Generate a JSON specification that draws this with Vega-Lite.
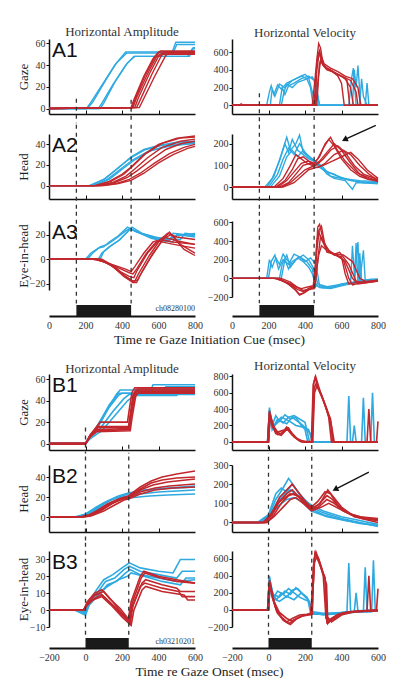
{
"$schema":"https://vega.github.io/schema/vega-lite/v6.json",
"background":"white",
"padding":{"left":17,"top":26,"right":0,"bottom":0},
"config":{"font":"Liberation Serif","view":{"stroke":null},
"axis":{"grid":false,"labelOverlap":false,"labelFlush":false,"labelFont":"Liberation Serif","labelFontSize":10,"labelColor":"#333","domainColor":"#111","domainWidth":1.5,"tickColor":"#111","tickSize":3,"labelPadding":1,"titleFont":"Liberation Serif","titleFontSize":13,"titleFontWeight":"normal","titleColor":"#222"},
"axisLeft":{"titleX":-22,"titleAngle":270,"titleBaseline":"alphabetic","titleAlign":"center"},
"title":{"font":"Liberation Serif","fontSize":13,"fontWeight":"normal","color":"#333","offset":-2},
"line":{"strokeWidth":1.4},
"rule":{"strokeDash":[4,4],"strokeWidth":1.3,"color":"#333"}},
"datasets":{
"a1g":[
{"s":"b1","c":"b","t":0,"v":0},{"s":"b1","c":"b","t":205,"v":0},{"s":"b1","c":"b","t":230,"v":6},{"s":"b1","c":"b","t":300,"v":24},{"s":"b1","c":"b","t":360,"v":40},{"s":"b1","c":"b","t":420,"v":52},{"s":"b1","c":"b","t":675,"v":52},{"s":"b1","c":"b","t":695,"v":61},{"s":"b1","c":"b","t":800,"v":61},
{"s":"b2","c":"b","t":0,"v":0},{"s":"b2","c":"b","t":210,"v":0},{"s":"b2","c":"b","t":240,"v":6},{"s":"b2","c":"b","t":310,"v":26},{"s":"b2","c":"b","t":370,"v":42},{"s":"b2","c":"b","t":425,"v":51},{"s":"b2","c":"b","t":680,"v":51},{"s":"b2","c":"b","t":700,"v":59},{"s":"b2","c":"b","t":800,"v":59},
{"s":"b3","c":"b","t":0,"v":0},{"s":"b3","c":"b","t":270,"v":0},{"s":"b3","c":"b","t":290,"v":5},{"s":"b3","c":"b","t":350,"v":22},{"s":"b3","c":"b","t":420,"v":40},{"s":"b3","c":"b","t":465,"v":48},{"s":"b3","c":"b","t":770,"v":48},{"s":"b3","c":"b","t":790,"v":56},{"s":"b3","c":"b","t":800,"v":56},
{"s":"b4","c":"b","t":0,"v":0},{"s":"b4","c":"b","t":280,"v":0},{"s":"b4","c":"b","t":300,"v":5},{"s":"b4","c":"b","t":360,"v":24},{"s":"b4","c":"b","t":430,"v":42},{"s":"b4","c":"b","t":470,"v":48},{"s":"b4","c":"b","t":760,"v":48},{"s":"b4","c":"b","t":785,"v":55},{"s":"b4","c":"b","t":800,"v":55},
{"s":"r1","c":"r","t":0,"v":0},{"s":"r1","c":"r","t":450,"v":1},{"s":"r1","c":"r","t":465,"v":8},{"s":"r1","c":"r","t":520,"v":30},{"s":"r1","c":"r","t":570,"v":46},{"s":"r1","c":"r","t":600,"v":52},{"s":"r1","c":"r","t":800,"v":52},
{"s":"r2","c":"r","t":0,"v":0},{"s":"r2","c":"r","t":455,"v":1},{"s":"r2","c":"r","t":470,"v":8},{"s":"r2","c":"r","t":525,"v":30},{"s":"r2","c":"r","t":580,"v":47},{"s":"r2","c":"r","t":610,"v":53},{"s":"r2","c":"r","t":800,"v":53},
{"s":"r3","c":"r","t":0,"v":0},{"s":"r3","c":"r","t":460,"v":1},{"s":"r3","c":"r","t":480,"v":10},{"s":"r3","c":"r","t":540,"v":32},{"s":"r3","c":"r","t":590,"v":48},{"s":"r3","c":"r","t":620,"v":51},{"s":"r3","c":"r","t":800,"v":51},
{"s":"r4","c":"r","t":0,"v":0},{"s":"r4","c":"r","t":470,"v":1},{"s":"r4","c":"r","t":490,"v":10},{"s":"r4","c":"r","t":550,"v":32},{"s":"r4","c":"r","t":600,"v":48},{"s":"r4","c":"r","t":630,"v":50},{"s":"r4","c":"r","t":800,"v":50},
{"s":"r5","c":"r","t":0,"v":0},{"s":"r5","c":"r","t":480,"v":1},{"s":"r5","c":"r","t":500,"v":8},{"s":"r5","c":"r","t":565,"v":32},{"s":"r5","c":"r","t":620,"v":50},{"s":"r5","c":"r","t":640,"v":52},{"s":"r5","c":"r","t":800,"v":52},
{"s":"r6","c":"r","t":0,"v":0},{"s":"r6","c":"r","t":495,"v":1},{"s":"r6","c":"r","t":510,"v":6},{"s":"r6","c":"r","t":580,"v":30},{"s":"r6","c":"r","t":640,"v":49},{"s":"r6","c":"r","t":660,"v":51},{"s":"r6","c":"r","t":800,"v":51}],
"a1v":[
{"s":"b1","c":"b","t":0,"v":0},{"s":"b1","c":"b","t":190,"v":0},{"s":"b1","c":"b","t":205,"v":150},{"s":"b1","c":"b","t":215,"v":220},{"s":"b1","c":"b","t":230,"v":120},{"s":"b1","c":"b","t":250,"v":230},{"s":"b1","c":"b","t":270,"v":180},{"s":"b1","c":"b","t":300,"v":250},{"s":"b1","c":"b","t":340,"v":290},{"s":"b1","c":"b","t":380,"v":330},{"s":"b1","c":"b","t":410,"v":300},{"s":"b1","c":"b","t":430,"v":200},{"s":"b1","c":"b","t":445,"v":0},{"s":"b1","c":"b","t":640,"v":0},{"s":"b1","c":"b","t":655,"v":300},{"s":"b1","c":"b","t":665,"v":420},{"s":"b1","c":"b","t":680,"v":0},{"s":"b1","c":"b","t":800,"v":0},
{"s":"b2","c":"b","t":0,"v":0},{"s":"b2","c":"b","t":210,"v":0},{"s":"b2","c":"b","t":220,"v":180},{"s":"b2","c":"b","t":235,"v":100},{"s":"b2","c":"b","t":260,"v":240},{"s":"b2","c":"b","t":290,"v":200},{"s":"b2","c":"b","t":330,"v":280},{"s":"b2","c":"b","t":370,"v":320},{"s":"b2","c":"b","t":400,"v":350},{"s":"b2","c":"b","t":420,"v":310},{"s":"b2","c":"b","t":440,"v":150},{"s":"b2","c":"b","t":460,"v":0},{"s":"b2","c":"b","t":660,"v":0},{"s":"b2","c":"b","t":670,"v":400},{"s":"b2","c":"b","t":680,"v":200},{"s":"b2","c":"b","t":690,"v":450},{"s":"b2","c":"b","t":705,"v":0},{"s":"b2","c":"b","t":800,"v":0},
{"s":"b3","c":"b","t":0,"v":0},{"s":"b3","c":"b","t":260,"v":0},{"s":"b3","c":"b","t":275,"v":200},{"s":"b3","c":"b","t":290,"v":120},{"s":"b3","c":"b","t":310,"v":220},{"s":"b3","c":"b","t":340,"v":250},{"s":"b3","c":"b","t":380,"v":300},{"s":"b3","c":"b","t":420,"v":330},{"s":"b3","c":"b","t":450,"v":280},{"s":"b3","c":"b","t":470,"v":100},{"s":"b3","c":"b","t":480,"v":0},{"s":"b3","c":"b","t":700,"v":0},{"s":"b3","c":"b","t":710,"v":300},{"s":"b3","c":"b","t":720,"v":100},{"s":"b3","c":"b","t":740,"v":0},{"s":"b3","c":"b","t":800,"v":0},
{"s":"b4","c":"b","t":0,"v":0},{"s":"b4","c":"b","t":270,"v":0},{"s":"b4","c":"b","t":285,"v":150},{"s":"b4","c":"b","t":300,"v":240},{"s":"b4","c":"b","t":330,"v":200},{"s":"b4","c":"b","t":360,"v":260},{"s":"b4","c":"b","t":400,"v":290},{"s":"b4","c":"b","t":440,"v":320},{"s":"b4","c":"b","t":460,"v":250},{"s":"b4","c":"b","t":478,"v":0},{"s":"b4","c":"b","t":730,"v":0},{"s":"b4","c":"b","t":740,"v":250},{"s":"b4","c":"b","t":750,"v":0},{"s":"b4","c":"b","t":800,"v":0},
{"s":"r1","c":"r","t":0,"v":0},{"s":"r1","c":"r","t":40,"v":0},{"s":"r1","c":"r","t":50,"v":15},{"s":"r1","c":"r","t":60,"v":0},{"s":"r1","c":"r","t":440,"v":0},{"s":"r1","c":"r","t":455,"v":300},{"s":"r1","c":"r","t":465,"v":520},{"s":"r1","c":"r","t":475,"v":700},{"s":"r1","c":"r","t":485,"v":650},{"s":"r1","c":"r","t":500,"v":450},{"s":"r1","c":"r","t":520,"v":400},{"s":"r1","c":"r","t":550,"v":380},{"s":"r1","c":"r","t":580,"v":330},{"s":"r1","c":"r","t":600,"v":250},{"s":"r1","c":"r","t":615,"v":0},{"s":"r1","c":"r","t":800,"v":0},
{"s":"r2","c":"r","t":0,"v":0},{"s":"r2","c":"r","t":450,"v":0},{"s":"r2","c":"r","t":460,"v":350},{"s":"r2","c":"r","t":470,"v":560},{"s":"r2","c":"r","t":480,"v":620},{"s":"r2","c":"r","t":495,"v":480},{"s":"r2","c":"r","t":520,"v":420},{"s":"r2","c":"r","t":560,"v":370},{"s":"r2","c":"r","t":600,"v":330},{"s":"r2","c":"r","t":630,"v":280},{"s":"r2","c":"r","t":645,"v":0},{"s":"r2","c":"r","t":800,"v":0},
{"s":"r3","c":"r","t":0,"v":0},{"s":"r3","c":"r","t":455,"v":0},{"s":"r3","c":"r","t":465,"v":400},{"s":"r3","c":"r","t":478,"v":600},{"s":"r3","c":"r","t":490,"v":500},{"s":"r3","c":"r","t":510,"v":430},{"s":"r3","c":"r","t":540,"v":400},{"s":"r3","c":"r","t":580,"v":350},{"s":"r3","c":"r","t":620,"v":300},{"s":"r3","c":"r","t":650,"v":200},{"s":"r3","c":"r","t":665,"v":0},{"s":"r3","c":"r","t":800,"v":0},
{"s":"r4","c":"r","t":0,"v":0},{"s":"r4","c":"r","t":460,"v":0},{"s":"r4","c":"r","t":472,"v":300},{"s":"r4","c":"r","t":485,"v":500},{"s":"r4","c":"r","t":500,"v":450},{"s":"r4","c":"r","t":530,"v":400},{"s":"r4","c":"r","t":570,"v":360},{"s":"r4","c":"r","t":610,"v":320},{"s":"r4","c":"r","t":650,"v":280},{"s":"r4","c":"r","t":680,"v":150},{"s":"r4","c":"r","t":690,"v":0},{"s":"r4","c":"r","t":800,"v":0},
{"s":"r5","c":"r","t":0,"v":0},{"s":"r5","c":"r","t":465,"v":0},{"s":"r5","c":"r","t":478,"v":450},{"s":"r5","c":"r","t":490,"v":550},{"s":"r5","c":"r","t":505,"v":470},{"s":"r5","c":"r","t":540,"v":420},{"s":"r5","c":"r","t":580,"v":380},{"s":"r5","c":"r","t":620,"v":330},{"s":"r5","c":"r","t":660,"v":300},{"s":"r5","c":"r","t":690,"v":200},{"s":"r5","c":"r","t":705,"v":0},{"s":"r5","c":"r","t":800,"v":0}],
"a2g":[
{"s":"b1","c":"b","t":0,"v":0},{"s":"b1","c":"b","t":220,"v":0},{"s":"b1","c":"b","t":300,"v":6},{"s":"b1","c":"b","t":380,"v":17},{"s":"b1","c":"b","t":450,"v":28},{"s":"b1","c":"b","t":520,"v":35},{"s":"b1","c":"b","t":600,"v":39},{"s":"b1","c":"b","t":700,"v":42},{"s":"b1","c":"b","t":800,"v":43},
{"s":"b2","c":"b","t":0,"v":0},{"s":"b2","c":"b","t":230,"v":0},{"s":"b2","c":"b","t":310,"v":7},{"s":"b2","c":"b","t":390,"v":19},{"s":"b2","c":"b","t":450,"v":27},{"s":"b2","c":"b","t":530,"v":35},{"s":"b2","c":"b","t":620,"v":39},{"s":"b2","c":"b","t":800,"v":42},
{"s":"b3","c":"b","t":0,"v":0},{"s":"b3","c":"b","t":240,"v":0},{"s":"b3","c":"b","t":320,"v":6},{"s":"b3","c":"b","t":400,"v":17},{"s":"b3","c":"b","t":460,"v":25},{"s":"b3","c":"b","t":540,"v":33},{"s":"b3","c":"b","t":640,"v":38},{"s":"b3","c":"b","t":800,"v":41},
{"s":"b4","c":"b","t":0,"v":0},{"s":"b4","c":"b","t":250,"v":0},{"s":"b4","c":"b","t":330,"v":6},{"s":"b4","c":"b","t":410,"v":17},{"s":"b4","c":"b","t":470,"v":25},{"s":"b4","c":"b","t":560,"v":34},{"s":"b4","c":"b","t":680,"v":39},{"s":"b4","c":"b","t":800,"v":41},
{"s":"r1","c":"r","t":0,"v":0},{"s":"r1","c":"r","t":250,"v":0},{"s":"r1","c":"r","t":330,"v":4},{"s":"r1","c":"r","t":400,"v":11},{"s":"r1","c":"r","t":450,"v":18},{"s":"r1","c":"r","t":520,"v":30},{"s":"r1","c":"r","t":600,"v":40},{"s":"r1","c":"r","t":700,"v":46},{"s":"r1","c":"r","t":800,"v":48},
{"s":"r2","c":"r","t":0,"v":0},{"s":"r2","c":"r","t":260,"v":0},{"s":"r2","c":"r","t":340,"v":4},{"s":"r2","c":"r","t":410,"v":11},{"s":"r2","c":"r","t":460,"v":19},{"s":"r2","c":"r","t":530,"v":31},{"s":"r2","c":"r","t":620,"v":41},{"s":"r2","c":"r","t":720,"v":46},{"s":"r2","c":"r","t":800,"v":47},
{"s":"r3","c":"r","t":0,"v":0},{"s":"r3","c":"r","t":270,"v":0},{"s":"r3","c":"r","t":350,"v":3},{"s":"r3","c":"r","t":420,"v":9},{"s":"r3","c":"r","t":470,"v":16},{"s":"r3","c":"r","t":540,"v":27},{"s":"r3","c":"r","t":620,"v":37},{"s":"r3","c":"r","t":720,"v":43},{"s":"r3","c":"r","t":800,"v":45},
{"s":"r4","c":"r","t":0,"v":0},{"s":"r4","c":"r","t":280,"v":0},{"s":"r4","c":"r","t":360,"v":3},{"s":"r4","c":"r","t":430,"v":8},{"s":"r4","c":"r","t":480,"v":14},{"s":"r4","c":"r","t":560,"v":25},{"s":"r4","c":"r","t":640,"v":35},{"s":"r4","c":"r","t":730,"v":41},{"s":"r4","c":"r","t":800,"v":43},
{"s":"r5","c":"r","t":0,"v":0},{"s":"r5","c":"r","t":290,"v":0},{"s":"r5","c":"r","t":370,"v":2},{"s":"r5","c":"r","t":440,"v":6},{"s":"r5","c":"r","t":500,"v":12},{"s":"r5","c":"r","t":580,"v":22},{"s":"r5","c":"r","t":660,"v":31},{"s":"r5","c":"r","t":740,"v":37},{"s":"r5","c":"r","t":800,"v":40},
{"s":"r6","c":"r","t":0,"v":0},{"s":"r6","c":"r","t":300,"v":0},{"s":"r6","c":"r","t":380,"v":2},{"s":"r6","c":"r","t":450,"v":5},{"s":"r6","c":"r","t":520,"v":12},{"s":"r6","c":"r","t":600,"v":22},{"s":"r6","c":"r","t":680,"v":30},{"s":"r6","c":"r","t":760,"v":36},{"s":"r6","c":"r","t":800,"v":38}],
"a2v":[
{"s":"b1","c":"b","t":0,"v":0},{"s":"b1","c":"b","t":180,"v":0},{"s":"b1","c":"b","t":220,"v":40},{"s":"b1","c":"b","t":260,"v":120},{"s":"b1","c":"b","t":290,"v":200},{"s":"b1","c":"b","t":310,"v":160},{"s":"b1","c":"b","t":330,"v":220},{"s":"b1","c":"b","t":360,"v":170},{"s":"b1","c":"b","t":390,"v":150},{"s":"b1","c":"b","t":420,"v":130},{"s":"b1","c":"b","t":450,"v":120},{"s":"b1","c":"b","t":480,"v":90},{"s":"b1","c":"b","t":520,"v":70},{"s":"b1","c":"b","t":560,"v":60},{"s":"b1","c":"b","t":600,"v":40},{"s":"b1","c":"b","t":650,"v":30},{"s":"b1","c":"b","t":700,"v":25},{"s":"b1","c":"b","t":800,"v":20},
{"s":"b2","c":"b","t":0,"v":0},{"s":"b2","c":"b","t":190,"v":0},{"s":"b2","c":"b","t":230,"v":50},{"s":"b2","c":"b","t":270,"v":150},{"s":"b2","c":"b","t":300,"v":230},{"s":"b2","c":"b","t":320,"v":170},{"s":"b2","c":"b","t":350,"v":200},{"s":"b2","c":"b","t":370,"v":240},{"s":"b2","c":"b","t":390,"v":160},{"s":"b2","c":"b","t":420,"v":140},{"s":"b2","c":"b","t":460,"v":110},{"s":"b2","c":"b","t":500,"v":80},{"s":"b2","c":"b","t":550,"v":60},{"s":"b2","c":"b","t":600,"v":45},{"s":"b2","c":"b","t":660,"v":30},{"s":"b2","c":"b","t":720,"v":20},{"s":"b2","c":"b","t":800,"v":15},
{"s":"b3","c":"b","t":0,"v":0},{"s":"b3","c":"b","t":200,"v":0},{"s":"b3","c":"b","t":250,"v":60},{"s":"b3","c":"b","t":280,"v":130},{"s":"b3","c":"b","t":310,"v":180},{"s":"b3","c":"b","t":340,"v":150},{"s":"b3","c":"b","t":370,"v":200},{"s":"b3","c":"b","t":400,"v":160},{"s":"b3","c":"b","t":440,"v":130},{"s":"b3","c":"b","t":480,"v":100},{"s":"b3","c":"b","t":520,"v":60},{"s":"b3","c":"b","t":560,"v":40},{"s":"b3","c":"b","t":620,"v":30},{"s":"b3","c":"b","t":660,"v":-10},{"s":"b3","c":"b","t":680,"v":20},{"s":"b3","c":"b","t":800,"v":20},
{"s":"b4","c":"b","t":0,"v":0},{"s":"b4","c":"b","t":210,"v":0},{"s":"b4","c":"b","t":260,"v":50},{"s":"b4","c":"b","t":300,"v":140},{"s":"b4","c":"b","t":330,"v":170},{"s":"b4","c":"b","t":360,"v":140},{"s":"b4","c":"b","t":390,"v":170},{"s":"b4","c":"b","t":420,"v":140},{"s":"b4","c":"b","t":460,"v":120},{"s":"b4","c":"b","t":500,"v":90},{"s":"b4","c":"b","t":540,"v":50},{"s":"b4","c":"b","t":600,"v":40},{"s":"b4","c":"b","t":700,"v":30},{"s":"b4","c":"b","t":800,"v":25},
{"s":"r1","c":"r","t":0,"v":0},{"s":"r1","c":"r","t":230,"v":0},{"s":"r1","c":"r","t":280,"v":40},{"s":"r1","c":"r","t":320,"v":100},{"s":"r1","c":"r","t":350,"v":150},{"s":"r1","c":"r","t":380,"v":130},{"s":"r1","c":"r","t":410,"v":110},{"s":"r1","c":"r","t":440,"v":100},{"s":"r1","c":"r","t":470,"v":130},{"s":"r1","c":"r","t":500,"v":180},{"s":"r1","c":"r","t":530,"v":220},{"s":"r1","c":"r","t":560,"v":190},{"s":"r1","c":"r","t":600,"v":130},{"s":"r1","c":"r","t":650,"v":80},{"s":"r1","c":"r","t":700,"v":50},{"s":"r1","c":"r","t":750,"v":35},{"s":"r1","c":"r","t":800,"v":30},
{"s":"r2","c":"r","t":0,"v":0},{"s":"r2","c":"r","t":240,"v":0},{"s":"r2","c":"r","t":290,"v":30},{"s":"r2","c":"r","t":330,"v":80},{"s":"r2","c":"r","t":360,"v":130},{"s":"r2","c":"r","t":390,"v":140},{"s":"r2","c":"r","t":420,"v":120},{"s":"r2","c":"r","t":450,"v":110},{"s":"r2","c":"r","t":480,"v":140},{"s":"r2","c":"r","t":510,"v":200},{"s":"r2","c":"r","t":540,"v":230},{"s":"r2","c":"r","t":570,"v":180},{"s":"r2","c":"r","t":620,"v":120},{"s":"r2","c":"r","t":680,"v":70},{"s":"r2","c":"r","t":740,"v":40},{"s":"r2","c":"r","t":800,"v":25},
{"s":"r3","c":"r","t":0,"v":0},{"s":"r3","c":"r","t":250,"v":0},{"s":"r3","c":"r","t":300,"v":30},{"s":"r3","c":"r","t":340,"v":70},{"s":"r3","c":"r","t":380,"v":110},{"s":"r3","c":"r","t":420,"v":120},{"s":"r3","c":"r","t":450,"v":100},{"s":"r3","c":"r","t":480,"v":120},{"s":"r3","c":"r","t":520,"v":160},{"s":"r3","c":"r","t":560,"v":200},{"s":"r3","c":"r","t":600,"v":170},{"s":"r3","c":"r","t":650,"v":110},{"s":"r3","c":"r","t":700,"v":60},{"s":"r3","c":"r","t":760,"v":40},{"s":"r3","c":"r","t":800,"v":30},
{"s":"r4","c":"r","t":0,"v":0},{"s":"r4","c":"r","t":260,"v":0},{"s":"r4","c":"r","t":310,"v":20},{"s":"r4","c":"r","t":350,"v":60},{"s":"r4","c":"r","t":390,"v":100},{"s":"r4","c":"r","t":430,"v":110},{"s":"r4","c":"r","t":460,"v":100},{"s":"r4","c":"r","t":500,"v":130},{"s":"r4","c":"r","t":540,"v":170},{"s":"r4","c":"r","t":580,"v":190},{"s":"r4","c":"r","t":620,"v":160},{"s":"r4","c":"r","t":670,"v":100},{"s":"r4","c":"r","t":720,"v":60},{"s":"r4","c":"r","t":800,"v":35},
{"s":"r5","c":"r","t":0,"v":0},{"s":"r5","c":"r","t":270,"v":0},{"s":"r5","c":"r","t":320,"v":20},{"s":"r5","c":"r","t":360,"v":50},{"s":"r5","c":"r","t":400,"v":80},{"s":"r5","c":"r","t":440,"v":95},{"s":"r5","c":"r","t":470,"v":90},{"s":"r5","c":"r","t":510,"v":110},{"s":"r5","c":"r","t":560,"v":150},{"s":"r5","c":"r","t":610,"v":170},{"s":"r5","c":"r","t":650,"v":150},{"s":"r5","c":"r","t":700,"v":100},{"s":"r5","c":"r","t":750,"v":60},{"s":"r5","c":"r","t":800,"v":30},
{"s":"r6","c":"r","t":0,"v":0},{"s":"r6","c":"r","t":280,"v":0},{"s":"r6","c":"r","t":340,"v":20},{"s":"r6","c":"r","t":380,"v":50},{"s":"r6","c":"r","t":420,"v":80},{"s":"r6","c":"r","t":460,"v":90},{"s":"r6","c":"r","t":500,"v":100},{"s":"r6","c":"r","t":550,"v":120},{"s":"r6","c":"r","t":600,"v":140},{"s":"r6","c":"r","t":650,"v":160},{"s":"r6","c":"r","t":690,"v":130},{"s":"r6","c":"r","t":740,"v":80},{"s":"r6","c":"r","t":800,"v":40}],
"a3g":[
{"s":"b1","c":"b","t":0,"v":0},{"s":"b1","c":"b","t":200,"v":0},{"s":"b1","c":"b","t":230,"v":5},{"s":"b1","c":"b","t":270,"v":9},{"s":"b1","c":"b","t":300,"v":10},{"s":"b1","c":"b","t":330,"v":14},{"s":"b1","c":"b","t":380,"v":19},{"s":"b1","c":"b","t":430,"v":26},{"s":"b1","c":"b","t":480,"v":22},{"s":"b1","c":"b","t":540,"v":19},{"s":"b1","c":"b","t":600,"v":16},{"s":"b1","c":"b","t":660,"v":15},{"s":"b1","c":"b","t":680,"v":21},{"s":"b1","c":"b","t":800,"v":19},
{"s":"b2","c":"b","t":0,"v":0},{"s":"b2","c":"b","t":210,"v":0},{"s":"b2","c":"b","t":240,"v":5},{"s":"b2","c":"b","t":280,"v":10},{"s":"b2","c":"b","t":320,"v":12},{"s":"b2","c":"b","t":360,"v":16},{"s":"b2","c":"b","t":420,"v":23},{"s":"b2","c":"b","t":445,"v":25},{"s":"b2","c":"b","t":500,"v":21},{"s":"b2","c":"b","t":560,"v":17},{"s":"b2","c":"b","t":620,"v":15},{"s":"b2","c":"b","t":680,"v":14},{"s":"b2","c":"b","t":700,"v":20},{"s":"b2","c":"b","t":800,"v":18},
{"s":"b3","c":"b","t":0,"v":0},{"s":"b3","c":"b","t":270,"v":0},{"s":"b3","c":"b","t":290,"v":5},{"s":"b3","c":"b","t":330,"v":10},{"s":"b3","c":"b","t":380,"v":15},{"s":"b3","c":"b","t":430,"v":22},{"s":"b3","c":"b","t":455,"v":26},{"s":"b3","c":"b","t":510,"v":21},{"s":"b3","c":"b","t":580,"v":18},{"s":"b3","c":"b","t":650,"v":16},{"s":"b3","c":"b","t":700,"v":19},{"s":"b3","c":"b","t":800,"v":21},
{"s":"b4","c":"b","t":0,"v":0},{"s":"b4","c":"b","t":280,"v":0},{"s":"b4","c":"b","t":300,"v":6},{"s":"b4","c":"b","t":340,"v":11},{"s":"b4","c":"b","t":390,"v":16},{"s":"b4","c":"b","t":440,"v":24},{"s":"b4","c":"b","t":470,"v":23},{"s":"b4","c":"b","t":530,"v":20},{"s":"b4","c":"b","t":600,"v":17},{"s":"b4","c":"b","t":720,"v":16},{"s":"b4","c":"b","t":745,"v":21},{"s":"b4","c":"b","t":800,"v":20},
{"s":"r1","c":"r","t":0,"v":0},{"s":"r1","c":"r","t":240,"v":0},{"s":"r1","c":"r","t":300,"v":-2},{"s":"r1","c":"r","t":360,"v":-5},{"s":"r1","c":"r","t":420,"v":-8},{"s":"r1","c":"r","t":450,"v":-10},{"s":"r1","c":"r","t":470,"v":-6},{"s":"r1","c":"r","t":520,"v":5},{"s":"r1","c":"r","t":570,"v":14},{"s":"r1","c":"r","t":590,"v":15},{"s":"r1","c":"r","t":650,"v":13},{"s":"r1","c":"r","t":720,"v":11},{"s":"r1","c":"r","t":800,"v":9},
{"s":"r2","c":"r","t":0,"v":0},{"s":"r2","c":"r","t":250,"v":0},{"s":"r2","c":"r","t":320,"v":-3},{"s":"r2","c":"r","t":380,"v":-7},{"s":"r2","c":"r","t":440,"v":-11},{"s":"r2","c":"r","t":460,"v":-12},{"s":"r2","c":"r","t":480,"v":-8},{"s":"r2","c":"r","t":530,"v":4},{"s":"r2","c":"r","t":580,"v":13},{"s":"r2","c":"r","t":610,"v":16},{"s":"r2","c":"r","t":680,"v":14},{"s":"r2","c":"r","t":800,"v":12},
{"s":"r3","c":"r","t":0,"v":0},{"s":"r3","c":"r","t":260,"v":0},{"s":"r3","c":"r","t":330,"v":-4},{"s":"r3","c":"r","t":390,"v":-10},{"s":"r3","c":"r","t":440,"v":-14},{"s":"r3","c":"r","t":465,"v":-15},{"s":"r3","c":"r","t":480,"v":-10},{"s":"r3","c":"r","t":540,"v":5},{"s":"r3","c":"r","t":600,"v":15},{"s":"r3","c":"r","t":630,"v":18},{"s":"r3","c":"r","t":700,"v":15},{"s":"r3","c":"r","t":800,"v":12},
{"s":"r4","c":"r","t":0,"v":0},{"s":"r4","c":"r","t":270,"v":0},{"s":"r4","c":"r","t":340,"v":-5},{"s":"r4","c":"r","t":400,"v":-12},{"s":"r4","c":"r","t":450,"v":-17},{"s":"r4","c":"r","t":470,"v":-18},{"s":"r4","c":"r","t":490,"v":-12},{"s":"r4","c":"r","t":550,"v":3},{"s":"r4","c":"r","t":610,"v":16},{"s":"r4","c":"r","t":650,"v":21},{"s":"r4","c":"r","t":700,"v":18},{"s":"r4","c":"r","t":800,"v":16},
{"s":"r5","c":"r","t":0,"v":0},{"s":"r5","c":"r","t":280,"v":0},{"s":"r5","c":"r","t":350,"v":-6},{"s":"r5","c":"r","t":410,"v":-14},{"s":"r5","c":"r","t":460,"v":-19},{"s":"r5","c":"r","t":480,"v":-19},{"s":"r5","c":"r","t":500,"v":-13},{"s":"r5","c":"r","t":560,"v":2},{"s":"r5","c":"r","t":620,"v":15},{"s":"r5","c":"r","t":660,"v":22},{"s":"r5","c":"r","t":720,"v":12},{"s":"r5","c":"r","t":800,"v":5},
{"s":"r6","c":"r","t":0,"v":0},{"s":"r6","c":"r","t":290,"v":0},{"s":"r6","c":"r","t":360,"v":-6},{"s":"r6","c":"r","t":420,"v":-14},{"s":"r6","c":"r","t":460,"v":-18},{"s":"r6","c":"r","t":485,"v":-17},{"s":"r6","c":"r","t":510,"v":-10},{"s":"r6","c":"r","t":570,"v":5},{"s":"r6","c":"r","t":630,"v":17},{"s":"r6","c":"r","t":670,"v":20},{"s":"r6","c":"r","t":740,"v":8},{"s":"r6","c":"r","t":800,"v":3}],
"a3v":[
{"s":"b1","c":"b","t":0,"v":0},{"s":"b1","c":"b","t":190,"v":0},{"s":"b1","c":"b","t":205,"v":200},{"s":"b1","c":"b","t":220,"v":120},{"s":"b1","c":"b","t":240,"v":220},{"s":"b1","c":"b","t":260,"v":150},{"s":"b1","c":"b","t":280,"v":260},{"s":"b1","c":"b","t":300,"v":200},{"s":"b1","c":"b","t":330,"v":150},{"s":"b1","c":"b","t":360,"v":220},{"s":"b1","c":"b","t":390,"v":180},{"s":"b1","c":"b","t":420,"v":120},{"s":"b1","c":"b","t":440,"v":50},{"s":"b1","c":"b","t":460,"v":-80},{"s":"b1","c":"b","t":500,"v":-100},{"s":"b1","c":"b","t":560,"v":-90},{"s":"b1","c":"b","t":620,"v":-60},{"s":"b1","c":"b","t":650,"v":-40},{"s":"b1","c":"b","t":660,"v":350},{"s":"b1","c":"b","t":672,"v":0},{"s":"b1","c":"b","t":680,"v":380},{"s":"b1","c":"b","t":690,"v":-30},{"s":"b1","c":"b","t":750,"v":-20},{"s":"b1","c":"b","t":800,"v":-20},
{"s":"b2","c":"b","t":0,"v":0},{"s":"b2","c":"b","t":200,"v":0},{"s":"b2","c":"b","t":215,"v":180},{"s":"b2","c":"b","t":235,"v":250},{"s":"b2","c":"b","t":255,"v":100},{"s":"b2","c":"b","t":280,"v":200},{"s":"b2","c":"b","t":310,"v":150},{"s":"b2","c":"b","t":340,"v":260},{"s":"b2","c":"b","t":380,"v":220},{"s":"b2","c":"b","t":410,"v":180},{"s":"b2","c":"b","t":440,"v":100},{"s":"b2","c":"b","t":455,"v":-50},{"s":"b2","c":"b","t":480,"v":-100},{"s":"b2","c":"b","t":540,"v":-110},{"s":"b2","c":"b","t":600,"v":-80},{"s":"b2","c":"b","t":670,"v":-50},{"s":"b2","c":"b","t":690,"v":390},{"s":"b2","c":"b","t":700,"v":-30},{"s":"b2","c":"b","t":760,"v":-10},{"s":"b2","c":"b","t":800,"v":-10},
{"s":"b3","c":"b","t":0,"v":0},{"s":"b3","c":"b","t":260,"v":0},{"s":"b3","c":"b","t":275,"v":150},{"s":"b3","c":"b","t":300,"v":250},{"s":"b3","c":"b","t":320,"v":120},{"s":"b3","c":"b","t":350,"v":200},{"s":"b3","c":"b","t":390,"v":250},{"s":"b3","c":"b","t":420,"v":200},{"s":"b3","c":"b","t":450,"v":100},{"s":"b3","c":"b","t":470,"v":-60},{"s":"b3","c":"b","t":520,"v":-90},{"s":"b3","c":"b","t":580,"v":-70},{"s":"b3","c":"b","t":640,"v":-50},{"s":"b3","c":"b","t":700,"v":-40},{"s":"b3","c":"b","t":720,"v":300},{"s":"b3","c":"b","t":730,"v":-20},{"s":"b3","c":"b","t":800,"v":-10},
{"s":"b4","c":"b","t":0,"v":0},{"s":"b4","c":"b","t":270,"v":0},{"s":"b4","c":"b","t":290,"v":200},{"s":"b4","c":"b","t":310,"v":100},{"s":"b4","c":"b","t":330,"v":180},{"s":"b4","c":"b","t":370,"v":230},{"s":"b4","c":"b","t":400,"v":180},{"s":"b4","c":"b","t":430,"v":220},{"s":"b4","c":"b","t":460,"v":150},{"s":"b4","c":"b","t":480,"v":-80},{"s":"b4","c":"b","t":540,"v":-100},{"s":"b4","c":"b","t":600,"v":-60},{"s":"b4","c":"b","t":660,"v":-40},{"s":"b4","c":"b","t":690,"v":-30},{"s":"b4","c":"b","t":700,"v":270},{"s":"b4","c":"b","t":710,"v":-20},{"s":"b4","c":"b","t":800,"v":-20},
{"s":"r1","c":"r","t":0,"v":0},{"s":"r1","c":"r","t":230,"v":0},{"s":"r1","c":"r","t":270,"v":-20},{"s":"r1","c":"r","t":310,"v":-50},{"s":"r1","c":"r","t":350,"v":-90},{"s":"r1","c":"r","t":380,"v":-110},{"s":"r1","c":"r","t":420,"v":-90},{"s":"r1","c":"r","t":445,"v":-80},{"s":"r1","c":"r","t":455,"v":100},{"s":"r1","c":"r","t":465,"v":400},{"s":"r1","c":"r","t":475,"v":500},{"s":"r1","c":"r","t":490,"v":420},{"s":"r1","c":"r","t":520,"v":300},{"s":"r1","c":"r","t":560,"v":250},{"s":"r1","c":"r","t":600,"v":230},{"s":"r1","c":"r","t":620,"v":50},{"s":"r1","c":"r","t":640,"v":-60},{"s":"r1","c":"r","t":700,"v":-40},{"s":"r1","c":"r","t":800,"v":-20},
{"s":"r2","c":"r","t":0,"v":0},{"s":"r2","c":"r","t":240,"v":0},{"s":"r2","c":"r","t":290,"v":-40},{"s":"r2","c":"r","t":330,"v":-80},{"s":"r2","c":"r","t":360,"v":-120},{"s":"r2","c":"r","t":390,"v":-140},{"s":"r2","c":"r","t":430,"v":-100},{"s":"r2","c":"r","t":450,"v":-90},{"s":"r2","c":"r","t":460,"v":200},{"s":"r2","c":"r","t":470,"v":550},{"s":"r2","c":"r","t":480,"v":580},{"s":"r2","c":"r","t":495,"v":450},{"s":"r2","c":"r","t":520,"v":280},{"s":"r2","c":"r","t":560,"v":260},{"s":"r2","c":"r","t":610,"v":200},{"s":"r2","c":"r","t":640,"v":0},{"s":"r2","c":"r","t":660,"v":-70},{"s":"r2","c":"r","t":720,"v":-40},{"s":"r2","c":"r","t":800,"v":-20},
{"s":"r3","c":"r","t":0,"v":0},{"s":"r3","c":"r","t":250,"v":0},{"s":"r3","c":"r","t":300,"v":-50},{"s":"r3","c":"r","t":340,"v":-110},{"s":"r3","c":"r","t":370,"v":-170},{"s":"r3","c":"r","t":390,"v":-160},{"s":"r3","c":"r","t":420,"v":-110},{"s":"r3","c":"r","t":450,"v":-100},{"s":"r3","c":"r","t":465,"v":300},{"s":"r3","c":"r","t":478,"v":520},{"s":"r3","c":"r","t":490,"v":560},{"s":"r3","c":"r","t":510,"v":350},{"s":"r3","c":"r","t":540,"v":280},{"s":"r3","c":"r","t":580,"v":240},{"s":"r3","c":"r","t":620,"v":180},{"s":"r3","c":"r","t":660,"v":0},{"s":"r3","c":"r","t":690,"v":-60},{"s":"r3","c":"r","t":760,"v":-40},{"s":"r3","c":"r","t":800,"v":-30},
{"s":"r4","c":"r","t":0,"v":0},{"s":"r4","c":"r","t":260,"v":0},{"s":"r4","c":"r","t":310,"v":-60},{"s":"r4","c":"r","t":350,"v":-130},{"s":"r4","c":"r","t":370,"v":-180},{"s":"r4","c":"r","t":400,"v":-150},{"s":"r4","c":"r","t":430,"v":-110},{"s":"r4","c":"r","t":455,"v":-100},{"s":"r4","c":"r","t":470,"v":200},{"s":"r4","c":"r","t":485,"v":450},{"s":"r4","c":"r","t":500,"v":400},{"s":"r4","c":"r","t":530,"v":300},{"s":"r4","c":"r","t":560,"v":260},{"s":"r4","c":"r","t":590,"v":280},{"s":"r4","c":"r","t":640,"v":150},{"s":"r4","c":"r","t":680,"v":-30},{"s":"r4","c":"r","t":720,"v":-50},{"s":"r4","c":"r","t":800,"v":-30},
{"s":"r5","c":"r","t":0,"v":0},{"s":"r5","c":"r","t":270,"v":0},{"s":"r5","c":"r","t":320,"v":-40},{"s":"r5","c":"r","t":360,"v":-100},{"s":"r5","c":"r","t":390,"v":-130},{"s":"r5","c":"r","t":420,"v":-120},{"s":"r5","c":"r","t":450,"v":-110},{"s":"r5","c":"r","t":475,"v":250},{"s":"r5","c":"r","t":490,"v":350},{"s":"r5","c":"r","t":520,"v":300},{"s":"r5","c":"r","t":560,"v":260},{"s":"r5","c":"r","t":610,"v":250},{"s":"r5","c":"r","t":660,"v":180},{"s":"r5","c":"r","t":700,"v":0},{"s":"r5","c":"r","t":740,"v":-40},{"s":"r5","c":"r","t":800,"v":-30}],
"b1g":[
{"s":"b1","c":"b","t":-200,"v":0},{"s":"b1","c":"b","t":0,"v":0},{"s":"b1","c":"b","t":20,"v":6},{"s":"b1","c":"b","t":60,"v":15},{"s":"b1","c":"b","t":120,"v":32},{"s":"b1","c":"b","t":170,"v":46},{"s":"b1","c":"b","t":190,"v":50},{"s":"b1","c":"b","t":600,"v":50},
{"s":"b2","c":"b","t":-200,"v":0},{"s":"b2","c":"b","t":0,"v":0},{"s":"b2","c":"b","t":20,"v":5},{"s":"b2","c":"b","t":70,"v":16},{"s":"b2","c":"b","t":130,"v":34},{"s":"b2","c":"b","t":180,"v":45},{"s":"b2","c":"b","t":200,"v":47},{"s":"b2","c":"b","t":420,"v":47},{"s":"b2","c":"b","t":440,"v":53},{"s":"b2","c":"b","t":600,"v":53},
{"s":"b3","c":"b","t":-200,"v":0},{"s":"b3","c":"b","t":0,"v":0},{"s":"b3","c":"b","t":20,"v":5},{"s":"b3","c":"b","t":80,"v":14},{"s":"b3","c":"b","t":150,"v":30},{"s":"b3","c":"b","t":210,"v":42},{"s":"b3","c":"b","t":240,"v":46},{"s":"b3","c":"b","t":600,"v":46},
{"s":"b4","c":"b","t":-200,"v":0},{"s":"b4","c":"b","t":0,"v":0},{"s":"b4","c":"b","t":20,"v":4},{"s":"b4","c":"b","t":90,"v":12},{"s":"b4","c":"b","t":160,"v":26},{"s":"b4","c":"b","t":230,"v":40},{"s":"b4","c":"b","t":270,"v":45},{"s":"b4","c":"b","t":500,"v":45},{"s":"b4","c":"b","t":520,"v":50},{"s":"b4","c":"b","t":600,"v":50},
{"s":"b5","c":"b","t":-200,"v":0},{"s":"b5","c":"b","t":0,"v":0},{"s":"b5","c":"b","t":25,"v":5},{"s":"b5","c":"b","t":70,"v":18},{"s":"b5","c":"b","t":130,"v":36},{"s":"b5","c":"b","t":180,"v":47},{"s":"b5","c":"b","t":350,"v":47},{"s":"b5","c":"b","t":370,"v":55},{"s":"b5","c":"b","t":600,"v":55},
{"s":"r1","c":"r","t":-200,"v":0},{"s":"r1","c":"r","t":0,"v":0},{"s":"r1","c":"r","t":30,"v":8},{"s":"r1","c":"r","t":60,"v":13},{"s":"r1","c":"r","t":235,"v":14},{"s":"r1","c":"r","t":245,"v":25},{"s":"r1","c":"r","t":265,"v":44},{"s":"r1","c":"r","t":280,"v":49},{"s":"r1","c":"r","t":600,"v":49},
{"s":"r2","c":"r","t":-200,"v":0},{"s":"r2","c":"r","t":0,"v":0},{"s":"r2","c":"r","t":30,"v":9},{"s":"r2","c":"r","t":70,"v":16},{"s":"r2","c":"r","t":240,"v":16},{"s":"r2","c":"r","t":250,"v":28},{"s":"r2","c":"r","t":270,"v":46},{"s":"r2","c":"r","t":285,"v":51},{"s":"r2","c":"r","t":600,"v":51},
{"s":"r3","c":"r","t":-200,"v":0},{"s":"r3","c":"r","t":0,"v":0},{"s":"r3","c":"r","t":30,"v":9},{"s":"r3","c":"r","t":80,"v":20},{"s":"r3","c":"r","t":230,"v":20},{"s":"r3","c":"r","t":240,"v":32},{"s":"r3","c":"r","t":255,"v":48},{"s":"r3","c":"r","t":270,"v":52},{"s":"r3","c":"r","t":600,"v":52},
{"s":"r4","c":"r","t":-200,"v":0},{"s":"r4","c":"r","t":0,"v":0},{"s":"r4","c":"r","t":30,"v":7},{"s":"r4","c":"r","t":60,"v":11},{"s":"r4","c":"r","t":245,"v":12},{"s":"r4","c":"r","t":255,"v":24},{"s":"r4","c":"r","t":275,"v":44},{"s":"r4","c":"r","t":290,"v":48},{"s":"r4","c":"r","t":600,"v":48},
{"s":"r5","c":"r","t":-200,"v":0},{"s":"r5","c":"r","t":0,"v":0},{"s":"r5","c":"r","t":30,"v":8},{"s":"r5","c":"r","t":70,"v":15},{"s":"r5","c":"r","t":235,"v":15},{"s":"r5","c":"r","t":245,"v":27},{"s":"r5","c":"r","t":260,"v":45},{"s":"r5","c":"r","t":275,"v":50},{"s":"r5","c":"r","t":600,"v":50},
{"s":"r6","c":"r","t":-200,"v":0},{"s":"r6","c":"r","t":0,"v":0},{"s":"r6","c":"r","t":25,"v":8},{"s":"r6","c":"r","t":60,"v":12},{"s":"r6","c":"r","t":240,"v":13},{"s":"r6","c":"r","t":250,"v":26},{"s":"r6","c":"r","t":270,"v":46},{"s":"r6","c":"r","t":280,"v":47},{"s":"r6","c":"r","t":600,"v":47}],
"b1v":[
{"s":"b1","c":"b","t":-200,"v":0},{"s":"b1","c":"b","t":-5,"v":0},{"s":"b1","c":"b","t":5,"v":420},{"s":"b1","c":"b","t":20,"v":200},{"s":"b1","c":"b","t":40,"v":320},{"s":"b1","c":"b","t":60,"v":250},{"s":"b1","c":"b","t":90,"v":330},{"s":"b1","c":"b","t":120,"v":280},{"s":"b1","c":"b","t":150,"v":300},{"s":"b1","c":"b","t":180,"v":200},{"s":"b1","c":"b","t":200,"v":150},{"s":"b1","c":"b","t":215,"v":0},{"s":"b1","c":"b","t":430,"v":0},{"s":"b1","c":"b","t":440,"v":560},{"s":"b1","c":"b","t":450,"v":0},{"s":"b1","c":"b","t":600,"v":0},
{"s":"b2","c":"b","t":-200,"v":0},{"s":"b2","c":"b","t":-5,"v":0},{"s":"b2","c":"b","t":5,"v":380},{"s":"b2","c":"b","t":20,"v":150},{"s":"b2","c":"b","t":50,"v":280},{"s":"b2","c":"b","t":80,"v":230},{"s":"b2","c":"b","t":110,"v":300},{"s":"b2","c":"b","t":140,"v":320},{"s":"b2","c":"b","t":170,"v":280},{"s":"b2","c":"b","t":200,"v":240},{"s":"b2","c":"b","t":225,"v":0},{"s":"b2","c":"b","t":510,"v":0},{"s":"b2","c":"b","t":520,"v":540},{"s":"b2","c":"b","t":530,"v":0},{"s":"b2","c":"b","t":600,"v":0},
{"s":"b3","c":"b","t":-200,"v":0},{"s":"b3","c":"b","t":0,"v":0},{"s":"b3","c":"b","t":8,"v":350},{"s":"b3","c":"b","t":25,"v":180},{"s":"b3","c":"b","t":60,"v":260},{"s":"b3","c":"b","t":100,"v":220},{"s":"b3","c":"b","t":130,"v":300},{"s":"b3","c":"b","t":160,"v":250},{"s":"b3","c":"b","t":190,"v":200},{"s":"b3","c":"b","t":230,"v":100},{"s":"b3","c":"b","t":245,"v":0},{"s":"b3","c":"b","t":560,"v":0},{"s":"b3","c":"b","t":570,"v":600},{"s":"b3","c":"b","t":580,"v":0},{"s":"b3","c":"b","t":600,"v":0},
{"s":"b4","c":"b","t":-200,"v":0},{"s":"b4","c":"b","t":0,"v":0},{"s":"b4","c":"b","t":10,"v":300},{"s":"b4","c":"b","t":30,"v":200},{"s":"b4","c":"b","t":70,"v":300},{"s":"b4","c":"b","t":110,"v":260},{"s":"b4","c":"b","t":150,"v":200},{"s":"b4","c":"b","t":190,"v":180},{"s":"b4","c":"b","t":220,"v":150},{"s":"b4","c":"b","t":240,"v":0},{"s":"b4","c":"b","t":460,"v":0},{"s":"b4","c":"b","t":470,"v":200},{"s":"b4","c":"b","t":480,"v":0},{"s":"b4","c":"b","t":600,"v":0},
{"s":"r1","c":"r","t":-200,"v":0},{"s":"r1","c":"r","t":-5,"v":0},{"s":"r1","c":"r","t":5,"v":380},{"s":"r1","c":"r","t":20,"v":250},{"s":"r1","c":"r","t":40,"v":120},{"s":"r1","c":"r","t":70,"v":100},{"s":"r1","c":"r","t":100,"v":180},{"s":"r1","c":"r","t":130,"v":100},{"s":"r1","c":"r","t":160,"v":30},{"s":"r1","c":"r","t":200,"v":0},{"s":"r1","c":"r","t":235,"v":0},{"s":"r1","c":"r","t":245,"v":700},{"s":"r1","c":"r","t":255,"v":780},{"s":"r1","c":"r","t":280,"v":620},{"s":"r1","c":"r","t":310,"v":450},{"s":"r1","c":"r","t":330,"v":300},{"s":"r1","c":"r","t":345,"v":0},{"s":"r1","c":"r","t":600,"v":0},
{"s":"r2","c":"r","t":-200,"v":0},{"s":"r2","c":"r","t":-5,"v":0},{"s":"r2","c":"r","t":5,"v":350},{"s":"r2","c":"r","t":20,"v":200},{"s":"r2","c":"r","t":40,"v":100},{"s":"r2","c":"r","t":70,"v":80},{"s":"r2","c":"r","t":100,"v":160},{"s":"r2","c":"r","t":130,"v":80},{"s":"r2","c":"r","t":170,"v":10},{"s":"r2","c":"r","t":240,"v":0},{"s":"r2","c":"r","t":250,"v":650},{"s":"r2","c":"r","t":262,"v":720},{"s":"r2","c":"r","t":290,"v":580},{"s":"r2","c":"r","t":320,"v":400},{"s":"r2","c":"r","t":340,"v":250},{"s":"r2","c":"r","t":355,"v":0},{"s":"r2","c":"r","t":540,"v":0},{"s":"r2","c":"r","t":550,"v":400},{"s":"r2","c":"r","t":560,"v":0},{"s":"r2","c":"r","t":600,"v":0},
{"s":"r3","c":"r","t":-200,"v":0},{"s":"r3","c":"r","t":0,"v":0},{"s":"r3","c":"r","t":8,"v":330},{"s":"r3","c":"r","t":25,"v":180},{"s":"r3","c":"r","t":50,"v":90},{"s":"r3","c":"r","t":80,"v":110},{"s":"r3","c":"r","t":110,"v":170},{"s":"r3","c":"r","t":140,"v":60},{"s":"r3","c":"r","t":180,"v":0},{"s":"r3","c":"r","t":242,"v":0},{"s":"r3","c":"r","t":252,"v":600},{"s":"r3","c":"r","t":265,"v":680},{"s":"r3","c":"r","t":295,"v":540},{"s":"r3","c":"r","t":325,"v":350},{"s":"r3","c":"r","t":345,"v":200},{"s":"r3","c":"r","t":360,"v":0},{"s":"r3","c":"r","t":592,"v":0},{"s":"r3","c":"r","t":600,"v":250},
{"s":"r4","c":"r","t":-200,"v":0},{"s":"r4","c":"r","t":0,"v":0},{"s":"r4","c":"r","t":8,"v":300},{"s":"r4","c":"r","t":25,"v":200},{"s":"r4","c":"r","t":50,"v":120},{"s":"r4","c":"r","t":80,"v":140},{"s":"r4","c":"r","t":110,"v":150},{"s":"r4","c":"r","t":150,"v":50},{"s":"r4","c":"r","t":190,"v":0},{"s":"r4","c":"r","t":238,"v":0},{"s":"r4","c":"r","t":248,"v":720},{"s":"r4","c":"r","t":258,"v":800},{"s":"r4","c":"r","t":285,"v":600},{"s":"r4","c":"r","t":315,"v":420},{"s":"r4","c":"r","t":340,"v":280},{"s":"r4","c":"r","t":352,"v":0},{"s":"r4","c":"r","t":600,"v":0}],
"b2g":[
{"s":"b1","c":"b","t":-200,"v":0},{"s":"b1","c":"b","t":-50,"v":0},{"s":"b1","c":"b","t":0,"v":2},{"s":"b1","c":"b","t":50,"v":7},{"s":"b1","c":"b","t":100,"v":13},{"s":"b1","c":"b","t":150,"v":18},{"s":"b1","c":"b","t":235,"v":23},{"s":"b1","c":"b","t":300,"v":26},{"s":"b1","c":"b","t":400,"v":28},{"s":"b1","c":"b","t":500,"v":29},{"s":"b1","c":"b","t":600,"v":30},
{"s":"b2","c":"b","t":-200,"v":0},{"s":"b2","c":"b","t":-40,"v":0},{"s":"b2","c":"b","t":0,"v":2},{"s":"b2","c":"b","t":50,"v":8},{"s":"b2","c":"b","t":100,"v":14},{"s":"b2","c":"b","t":170,"v":19},{"s":"b2","c":"b","t":235,"v":21},{"s":"b2","c":"b","t":300,"v":23},{"s":"b2","c":"b","t":400,"v":25},{"s":"b2","c":"b","t":600,"v":27},
{"s":"b3","c":"b","t":-200,"v":0},{"s":"b3","c":"b","t":-30,"v":0},{"s":"b3","c":"b","t":0,"v":1},{"s":"b3","c":"b","t":60,"v":7},{"s":"b3","c":"b","t":120,"v":13},{"s":"b3","c":"b","t":180,"v":17},{"s":"b3","c":"b","t":235,"v":19},{"s":"b3","c":"b","t":350,"v":21},{"s":"b3","c":"b","t":450,"v":22},{"s":"b3","c":"b","t":600,"v":23},
{"s":"b4","c":"b","t":-200,"v":0},{"s":"b4","c":"b","t":-60,"v":0},{"s":"b4","c":"b","t":0,"v":3},{"s":"b4","c":"b","t":60,"v":10},{"s":"b4","c":"b","t":120,"v":16},{"s":"b4","c":"b","t":180,"v":21},{"s":"b4","c":"b","t":235,"v":24},{"s":"b4","c":"b","t":320,"v":27},{"s":"b4","c":"b","t":450,"v":29},{"s":"b4","c":"b","t":600,"v":31},
{"s":"r1","c":"r","t":-200,"v":0},{"s":"r1","c":"r","t":-30,"v":0},{"s":"r1","c":"r","t":20,"v":2},{"s":"r1","c":"r","t":60,"v":6},{"s":"r1","c":"r","t":120,"v":13},{"s":"r1","c":"r","t":180,"v":18},{"s":"r1","c":"r","t":235,"v":21},{"s":"r1","c":"r","t":300,"v":30},{"s":"r1","c":"r","t":360,"v":36},{"s":"r1","c":"r","t":420,"v":40},{"s":"r1","c":"r","t":500,"v":43},{"s":"r1","c":"r","t":600,"v":46},
{"s":"r2","c":"r","t":-200,"v":0},{"s":"r2","c":"r","t":-30,"v":0},{"s":"r2","c":"r","t":20,"v":2},{"s":"r2","c":"r","t":70,"v":6},{"s":"r2","c":"r","t":130,"v":13},{"s":"r2","c":"r","t":190,"v":18},{"s":"r2","c":"r","t":235,"v":20},{"s":"r2","c":"r","t":300,"v":28},{"s":"r2","c":"r","t":360,"v":34},{"s":"r2","c":"r","t":420,"v":37},{"s":"r2","c":"r","t":500,"v":39},{"s":"r2","c":"r","t":600,"v":40},
{"s":"r3","c":"r","t":-200,"v":0},{"s":"r3","c":"r","t":-20,"v":0},{"s":"r3","c":"r","t":20,"v":1},{"s":"r3","c":"r","t":80,"v":6},{"s":"r3","c":"r","t":140,"v":13},{"s":"r3","c":"r","t":200,"v":18},{"s":"r3","c":"r","t":235,"v":20},{"s":"r3","c":"r","t":300,"v":27},{"s":"r3","c":"r","t":370,"v":32},{"s":"r3","c":"r","t":450,"v":35},{"s":"r3","c":"r","t":600,"v":38},
{"s":"r4","c":"r","t":-200,"v":0},{"s":"r4","c":"r","t":-20,"v":0},{"s":"r4","c":"r","t":30,"v":2},{"s":"r4","c":"r","t":90,"v":7},{"s":"r4","c":"r","t":150,"v":14},{"s":"r4","c":"r","t":200,"v":18},{"s":"r4","c":"r","t":235,"v":19},{"s":"r4","c":"r","t":300,"v":25},{"s":"r4","c":"r","t":380,"v":29},{"s":"r4","c":"r","t":460,"v":31},{"s":"r4","c":"r","t":600,"v":33},
{"s":"r5","c":"r","t":-200,"v":0},{"s":"r5","c":"r","t":-10,"v":0},{"s":"r5","c":"r","t":30,"v":1},{"s":"r5","c":"r","t":100,"v":6},{"s":"r5","c":"r","t":160,"v":12},{"s":"r5","c":"r","t":210,"v":17},{"s":"r5","c":"r","t":235,"v":18},{"s":"r5","c":"r","t":300,"v":23},{"s":"r5","c":"r","t":380,"v":27},{"s":"r5","c":"r","t":480,"v":29},{"s":"r5","c":"r","t":600,"v":30}],
"b2v":[
{"s":"b1","c":"b","t":-200,"v":0},{"s":"b1","c":"b","t":-50,"v":0},{"s":"b1","c":"b","t":0,"v":30},{"s":"b1","c":"b","t":40,"v":120},{"s":"b1","c":"b","t":80,"v":180},{"s":"b1","c":"b","t":110,"v":230},{"s":"b1","c":"b","t":140,"v":190},{"s":"b1","c":"b","t":180,"v":130},{"s":"b1","c":"b","t":235,"v":90},{"s":"b1","c":"b","t":300,"v":60},{"s":"b1","c":"b","t":400,"v":30},{"s":"b1","c":"b","t":500,"v":10},{"s":"b1","c":"b","t":600,"v":-10},
{"s":"b2","c":"b","t":-200,"v":0},{"s":"b2","c":"b","t":-60,"v":0},{"s":"b2","c":"b","t":0,"v":40},{"s":"b2","c":"b","t":40,"v":150},{"s":"b2","c":"b","t":70,"v":180},{"s":"b2","c":"b","t":100,"v":160},{"s":"b2","c":"b","t":130,"v":200},{"s":"b2","c":"b","t":170,"v":150},{"s":"b2","c":"b","t":235,"v":80},{"s":"b2","c":"b","t":300,"v":50},{"s":"b2","c":"b","t":400,"v":20},{"s":"b2","c":"b","t":500,"v":0},{"s":"b2","c":"b","t":600,"v":-20},
{"s":"b3","c":"b","t":-200,"v":0},{"s":"b3","c":"b","t":-40,"v":0},{"s":"b3","c":"b","t":0,"v":30},{"s":"b3","c":"b","t":50,"v":110},{"s":"b3","c":"b","t":90,"v":150},{"s":"b3","c":"b","t":120,"v":170},{"s":"b3","c":"b","t":160,"v":140},{"s":"b3","c":"b","t":200,"v":110},{"s":"b3","c":"b","t":235,"v":70},{"s":"b3","c":"b","t":300,"v":40},{"s":"b3","c":"b","t":400,"v":15},{"s":"b3","c":"b","t":500,"v":-5},{"s":"b3","c":"b","t":600,"v":-15},
{"s":"b4","c":"b","t":-200,"v":0},{"s":"b4","c":"b","t":-50,"v":0},{"s":"b4","c":"b","t":10,"v":40},{"s":"b4","c":"b","t":60,"v":90},{"s":"b4","c":"b","t":100,"v":120},{"s":"b4","c":"b","t":140,"v":130},{"s":"b4","c":"b","t":180,"v":110},{"s":"b4","c":"b","t":235,"v":60},{"s":"b4","c":"b","t":320,"v":30},{"s":"b4","c":"b","t":420,"v":10},{"s":"b4","c":"b","t":600,"v":-20},
{"s":"r1","c":"r","t":-200,"v":0},{"s":"r1","c":"r","t":-20,"v":0},{"s":"r1","c":"r","t":20,"v":50},{"s":"r1","c":"r","t":60,"v":130},{"s":"r1","c":"r","t":100,"v":170},{"s":"r1","c":"r","t":130,"v":200},{"s":"r1","c":"r","t":170,"v":150},{"s":"r1","c":"r","t":210,"v":100},{"s":"r1","c":"r","t":235,"v":80},{"s":"r1","c":"r","t":270,"v":110},{"s":"r1","c":"r","t":310,"v":160},{"s":"r1","c":"r","t":340,"v":150},{"s":"r1","c":"r","t":380,"v":90},{"s":"r1","c":"r","t":450,"v":40},{"s":"r1","c":"r","t":520,"v":20},{"s":"r1","c":"r","t":600,"v":10},
{"s":"r2","c":"r","t":-200,"v":0},{"s":"r2","c":"r","t":-20,"v":0},{"s":"r2","c":"r","t":20,"v":40},{"s":"r2","c":"r","t":60,"v":110},{"s":"r2","c":"r","t":100,"v":150},{"s":"r2","c":"r","t":130,"v":170},{"s":"r2","c":"r","t":170,"v":130},{"s":"r2","c":"r","t":210,"v":90},{"s":"r2","c":"r","t":240,"v":70},{"s":"r2","c":"r","t":280,"v":100},{"s":"r2","c":"r","t":320,"v":140},{"s":"r2","c":"r","t":350,"v":120},{"s":"r2","c":"r","t":400,"v":70},{"s":"r2","c":"r","t":460,"v":40},{"s":"r2","c":"r","t":540,"v":20},{"s":"r2","c":"r","t":600,"v":15},
{"s":"r3","c":"r","t":-200,"v":0},{"s":"r3","c":"r","t":-10,"v":0},{"s":"r3","c":"r","t":30,"v":40},{"s":"r3","c":"r","t":70,"v":100},{"s":"r3","c":"r","t":110,"v":140},{"s":"r3","c":"r","t":140,"v":150},{"s":"r3","c":"r","t":180,"v":120},{"s":"r3","c":"r","t":220,"v":80},{"s":"r3","c":"r","t":240,"v":65},{"s":"r3","c":"r","t":280,"v":85},{"s":"r3","c":"r","t":320,"v":120},{"s":"r3","c":"r","t":360,"v":100},{"s":"r3","c":"r","t":410,"v":60},{"s":"r3","c":"r","t":480,"v":30},{"s":"r3","c":"r","t":600,"v":10},
{"s":"r4","c":"r","t":-200,"v":0},{"s":"r4","c":"r","t":-10,"v":0},{"s":"r4","c":"r","t":30,"v":30},{"s":"r4","c":"r","t":80,"v":80},{"s":"r4","c":"r","t":120,"v":120},{"s":"r4","c":"r","t":150,"v":130},{"s":"r4","c":"r","t":190,"v":100},{"s":"r4","c":"r","t":235,"v":60},{"s":"r4","c":"r","t":290,"v":80},{"s":"r4","c":"r","t":330,"v":100},{"s":"r4","c":"r","t":370,"v":80},{"s":"r4","c":"r","t":430,"v":50},{"s":"r4","c":"r","t":500,"v":30},{"s":"r4","c":"r","t":600,"v":20},
{"s":"r5","c":"r","t":-200,"v":0},{"s":"r5","c":"r","t":-30,"v":0},{"s":"r5","c":"r","t":10,"v":40},{"s":"r5","c":"r","t":50,"v":100},{"s":"r5","c":"r","t":90,"v":130},{"s":"r5","c":"r","t":120,"v":150},{"s":"r5","c":"r","t":160,"v":140},{"s":"r5","c":"r","t":200,"v":110},{"s":"r5","c":"r","t":240,"v":75},{"s":"r5","c":"r","t":280,"v":95},{"s":"r5","c":"r","t":325,"v":170},{"s":"r5","c":"r","t":350,"v":140},{"s":"r5","c":"r","t":400,"v":80},{"s":"r5","c":"r","t":470,"v":30},{"s":"r5","c":"r","t":600,"v":0}],
"b3g":[
{"s":"b1","c":"b","t":-200,"v":0},{"s":"b1","c":"b","t":-50,"v":0},{"s":"b1","c":"b","t":0,"v":-2},{"s":"b1","c":"b","t":20,"v":5},{"s":"b1","c":"b","t":60,"v":12},{"s":"b1","c":"b","t":100,"v":18},{"s":"b1","c":"b","t":150,"v":21},{"s":"b1","c":"b","t":200,"v":25},{"s":"b1","c":"b","t":240,"v":28},{"s":"b1","c":"b","t":300,"v":25},{"s":"b1","c":"b","t":400,"v":23},{"s":"b1","c":"b","t":480,"v":22},{"s":"b1","c":"b","t":500,"v":26},{"s":"b1","c":"b","t":520,"v":30},{"s":"b1","c":"b","t":600,"v":30},
{"s":"b2","c":"b","t":-200,"v":0},{"s":"b2","c":"b","t":-40,"v":0},{"s":"b2","c":"b","t":0,"v":-2},{"s":"b2","c":"b","t":20,"v":4},{"s":"b2","c":"b","t":70,"v":11},{"s":"b2","c":"b","t":110,"v":17},{"s":"b2","c":"b","t":160,"v":19},{"s":"b2","c":"b","t":210,"v":24},{"s":"b2","c":"b","t":240,"v":26},{"s":"b2","c":"b","t":300,"v":23},{"s":"b2","c":"b","t":400,"v":21},{"s":"b2","c":"b","t":500,"v":19},{"s":"b2","c":"b","t":530,"v":23},{"s":"b2","c":"b","t":600,"v":23},
{"s":"b3","c":"b","t":-200,"v":0},{"s":"b3","c":"b","t":-30,"v":0},{"s":"b3","c":"b","t":0,"v":-1},{"s":"b3","c":"b","t":25,"v":4},{"s":"b3","c":"b","t":80,"v":10},{"s":"b3","c":"b","t":120,"v":15},{"s":"b3","c":"b","t":170,"v":17},{"s":"b3","c":"b","t":220,"v":22},{"s":"b3","c":"b","t":245,"v":24},{"s":"b3","c":"b","t":300,"v":21},{"s":"b3","c":"b","t":400,"v":19},{"s":"b3","c":"b","t":500,"v":17},{"s":"b3","c":"b","t":600,"v":18},
{"s":"b4","c":"b","t":-200,"v":0},{"s":"b4","c":"b","t":-60,"v":0},{"s":"b4","c":"b","t":0,"v":-3},{"s":"b4","c":"b","t":20,"v":3},{"s":"b4","c":"b","t":70,"v":9},{"s":"b4","c":"b","t":120,"v":14},{"s":"b4","c":"b","t":180,"v":18},{"s":"b4","c":"b","t":230,"v":20},{"s":"b4","c":"b","t":250,"v":22},{"s":"b4","c":"b","t":320,"v":20},{"s":"b4","c":"b","t":420,"v":17},{"s":"b4","c":"b","t":520,"v":15},{"s":"b4","c":"b","t":550,"v":19},{"s":"b4","c":"b","t":600,"v":19},
{"s":"r1","c":"r","t":-200,"v":0},{"s":"r1","c":"r","t":-10,"v":0},{"s":"r1","c":"r","t":10,"v":4},{"s":"r1","c":"r","t":40,"v":8},{"s":"r1","c":"r","t":80,"v":10},{"s":"r1","c":"r","t":120,"v":6},{"s":"r1","c":"r","t":180,"v":0},{"s":"r1","c":"r","t":235,"v":-5},{"s":"r1","c":"r","t":250,"v":5},{"s":"r1","c":"r","t":300,"v":20},{"s":"r1","c":"r","t":320,"v":23},{"s":"r1","c":"r","t":400,"v":20},{"s":"r1","c":"r","t":500,"v":18},{"s":"r1","c":"r","t":600,"v":16},
{"s":"r2","c":"r","t":-200,"v":0},{"s":"r2","c":"r","t":-10,"v":0},{"s":"r2","c":"r","t":10,"v":5},{"s":"r2","c":"r","t":50,"v":10},{"s":"r2","c":"r","t":90,"v":12},{"s":"r2","c":"r","t":130,"v":7},{"s":"r2","c":"r","t":190,"v":1},{"s":"r2","c":"r","t":240,"v":-6},{"s":"r2","c":"r","t":255,"v":4},{"s":"r2","c":"r","t":305,"v":19},{"s":"r2","c":"r","t":325,"v":22},{"s":"r2","c":"r","t":410,"v":19},{"s":"r2","c":"r","t":500,"v":17},{"s":"r2","c":"r","t":600,"v":16},
{"s":"r3","c":"r","t":-200,"v":0},{"s":"r3","c":"r","t":-10,"v":0},{"s":"r3","c":"r","t":10,"v":4},{"s":"r3","c":"r","t":50,"v":9},{"s":"r3","c":"r","t":100,"v":11},{"s":"r3","c":"r","t":150,"v":5},{"s":"r3","c":"r","t":200,"v":-2},{"s":"r3","c":"r","t":245,"v":-8},{"s":"r3","c":"r","t":260,"v":3},{"s":"r3","c":"r","t":310,"v":16},{"s":"r3","c":"r","t":330,"v":18},{"s":"r3","c":"r","t":420,"v":15},{"s":"r3","c":"r","t":500,"v":13},{"s":"r3","c":"r","t":520,"v":11},{"s":"r3","c":"r","t":600,"v":11},
{"s":"r4","c":"r","t":-200,"v":0},{"s":"r4","c":"r","t":-10,"v":0},{"s":"r4","c":"r","t":10,"v":3},{"s":"r4","c":"r","t":50,"v":7},{"s":"r4","c":"r","t":90,"v":9},{"s":"r4","c":"r","t":140,"v":4},{"s":"r4","c":"r","t":200,"v":-3},{"s":"r4","c":"r","t":240,"v":-7},{"s":"r4","c":"r","t":255,"v":1},{"s":"r4","c":"r","t":300,"v":14},{"s":"r4","c":"r","t":325,"v":16},{"s":"r4","c":"r","t":420,"v":13},{"s":"r4","c":"r","t":510,"v":11},{"s":"r4","c":"r","t":530,"v":8},{"s":"r4","c":"r","t":600,"v":8},
{"s":"r5","c":"r","t":-200,"v":0},{"s":"r5","c":"r","t":-10,"v":0},{"s":"r5","c":"r","t":10,"v":4},{"s":"r5","c":"r","t":40,"v":6},{"s":"r5","c":"r","t":90,"v":8},{"s":"r5","c":"r","t":140,"v":3},{"s":"r5","c":"r","t":200,"v":-4},{"s":"r5","c":"r","t":250,"v":-9},{"s":"r5","c":"r","t":265,"v":0},{"s":"r5","c":"r","t":310,"v":12},{"s":"r5","c":"r","t":330,"v":14},{"s":"r5","c":"r","t":420,"v":11},{"s":"r5","c":"r","t":540,"v":9},{"s":"r5","c":"r","t":560,"v":6},{"s":"r5","c":"r","t":600,"v":6}],
"b3v":[
{"s":"b1","c":"b","t":-200,"v":0},{"s":"b1","c":"b","t":-5,"v":0},{"s":"b1","c":"b","t":5,"v":400},{"s":"b1","c":"b","t":15,"v":250},{"s":"b1","c":"b","t":30,"v":150},{"s":"b1","c":"b","t":50,"v":220},{"s":"b1","c":"b","t":80,"v":180},{"s":"b1","c":"b","t":110,"v":250},{"s":"b1","c":"b","t":140,"v":200},{"s":"b1","c":"b","t":170,"v":150},{"s":"b1","c":"b","t":200,"v":120},{"s":"b1","c":"b","t":225,"v":100},{"s":"b1","c":"b","t":235,"v":-40},{"s":"b1","c":"b","t":300,"v":-50},{"s":"b1","c":"b","t":380,"v":-40},{"s":"b1","c":"b","t":430,"v":-20},{"s":"b1","c":"b","t":440,"v":550},{"s":"b1","c":"b","t":450,"v":-20},{"s":"b1","c":"b","t":600,"v":-10},
{"s":"b2","c":"b","t":-200,"v":0},{"s":"b2","c":"b","t":-5,"v":0},{"s":"b2","c":"b","t":5,"v":380},{"s":"b2","c":"b","t":20,"v":200},{"s":"b2","c":"b","t":45,"v":120},{"s":"b2","c":"b","t":70,"v":200},{"s":"b2","c":"b","t":100,"v":150},{"s":"b2","c":"b","t":130,"v":230},{"s":"b2","c":"b","t":160,"v":250},{"s":"b2","c":"b","t":190,"v":180},{"s":"b2","c":"b","t":215,"v":130},{"s":"b2","c":"b","t":230,"v":-30},{"s":"b2","c":"b","t":300,"v":-60},{"s":"b2","c":"b","t":400,"v":-40},{"s":"b2","c":"b","t":520,"v":-20},{"s":"b2","c":"b","t":530,"v":500},{"s":"b2","c":"b","t":540,"v":-20},{"s":"b2","c":"b","t":600,"v":-10},
{"s":"b3","c":"b","t":-200,"v":0},{"s":"b3","c":"b","t":0,"v":0},{"s":"b3","c":"b","t":8,"v":350},{"s":"b3","c":"b","t":25,"v":180},{"s":"b3","c":"b","t":60,"v":150},{"s":"b3","c":"b","t":90,"v":220},{"s":"b3","c":"b","t":120,"v":180},{"s":"b3","c":"b","t":150,"v":260},{"s":"b3","c":"b","t":180,"v":200},{"s":"b3","c":"b","t":210,"v":150},{"s":"b3","c":"b","t":228,"v":60},{"s":"b3","c":"b","t":240,"v":-50},{"s":"b3","c":"b","t":320,"v":-50},{"s":"b3","c":"b","t":420,"v":-30},{"s":"b3","c":"b","t":565,"v":-20},{"s":"b3","c":"b","t":575,"v":580},{"s":"b3","c":"b","t":585,"v":-10},{"s":"b3","c":"b","t":600,"v":0},
{"s":"b4","c":"b","t":-200,"v":0},{"s":"b4","c":"b","t":0,"v":0},{"s":"b4","c":"b","t":10,"v":300},{"s":"b4","c":"b","t":30,"v":130},{"s":"b4","c":"b","t":60,"v":100},{"s":"b4","c":"b","t":100,"v":160},{"s":"b4","c":"b","t":140,"v":120},{"s":"b4","c":"b","t":180,"v":200},{"s":"b4","c":"b","t":220,"v":110},{"s":"b4","c":"b","t":235,"v":-20},{"s":"b4","c":"b","t":300,"v":-40},{"s":"b4","c":"b","t":400,"v":-30},{"s":"b4","c":"b","t":470,"v":-20},{"s":"b4","c":"b","t":480,"v":200},{"s":"b4","c":"b","t":490,"v":-10},{"s":"b4","c":"b","t":600,"v":0},
{"s":"r1","c":"r","t":-200,"v":0},{"s":"r1","c":"r","t":-5,"v":0},{"s":"r1","c":"r","t":5,"v":350},{"s":"r1","c":"r","t":20,"v":200},{"s":"r1","c":"r","t":40,"v":20},{"s":"r1","c":"r","t":70,"v":-80},{"s":"r1","c":"r","t":100,"v":-140},{"s":"r1","c":"r","t":130,"v":-100},{"s":"r1","c":"r","t":170,"v":-60},{"s":"r1","c":"r","t":210,"v":-50},{"s":"r1","c":"r","t":235,"v":-40},{"s":"r1","c":"r","t":245,"v":500},{"s":"r1","c":"r","t":255,"v":650},{"s":"r1","c":"r","t":280,"v":550},{"s":"r1","c":"r","t":300,"v":400},{"s":"r1","c":"r","t":315,"v":-100},{"s":"r1","c":"r","t":330,"v":-120},{"s":"r1","c":"r","t":380,"v":-50},{"s":"r1","c":"r","t":450,"v":-20},{"s":"r1","c":"r","t":600,"v":-10},
{"s":"r2","c":"r","t":-200,"v":0},{"s":"r2","c":"r","t":-5,"v":0},{"s":"r2","c":"r","t":5,"v":330},{"s":"r2","c":"r","t":20,"v":150},{"s":"r2","c":"r","t":45,"v":-20},{"s":"r2","c":"r","t":80,"v":-120},{"s":"r2","c":"r","t":110,"v":-160},{"s":"r2","c":"r","t":140,"v":-120},{"s":"r2","c":"r","t":180,"v":-70},{"s":"r2","c":"r","t":220,"v":-50},{"s":"r2","c":"r","t":240,"v":-45},{"s":"r2","c":"r","t":250,"v":600},{"s":"r2","c":"r","t":260,"v":680},{"s":"r2","c":"r","t":290,"v":500},{"s":"r2","c":"r","t":310,"v":350},{"s":"r2","c":"r","t":320,"v":-150},{"s":"r2","c":"r","t":340,"v":-130},{"s":"r2","c":"r","t":400,"v":-40},{"s":"r2","c":"r","t":500,"v":-10},{"s":"r2","c":"r","t":540,"v":-10},{"s":"r2","c":"r","t":550,"v":400},{"s":"r2","c":"r","t":560,"v":-10},{"s":"r2","c":"r","t":600,"v":0},
{"s":"r3","c":"r","t":-200,"v":0},{"s":"r3","c":"r","t":0,"v":0},{"s":"r3","c":"r","t":8,"v":320},{"s":"r3","c":"r","t":25,"v":120},{"s":"r3","c":"r","t":50,"v":-40},{"s":"r3","c":"r","t":90,"v":-130},{"s":"r3","c":"r","t":120,"v":-170},{"s":"r3","c":"r","t":150,"v":-110},{"s":"r3","c":"r","t":190,"v":-70},{"s":"r3","c":"r","t":230,"v":-55},{"s":"r3","c":"r","t":245,"v":300},{"s":"r3","c":"r","t":255,"v":670},{"s":"r3","c":"r","t":275,"v":600},{"s":"r3","c":"r","t":300,"v":420},{"s":"r3","c":"r","t":318,"v":300},{"s":"r3","c":"r","t":325,"v":-160},{"s":"r3","c":"r","t":350,"v":-100},{"s":"r3","c":"r","t":420,"v":-30},{"s":"r3","c":"r","t":600,"v":-10},
{"s":"r4","c":"r","t":-200,"v":0},{"s":"r4","c":"r","t":0,"v":0},{"s":"r4","c":"r","t":8,"v":300},{"s":"r4","c":"r","t":30,"v":100},{"s":"r4","c":"r","t":60,"v":-30},{"s":"r4","c":"r","t":100,"v":-100},{"s":"r4","c":"r","t":130,"v":-130},{"s":"r4","c":"r","t":160,"v":-90},{"s":"r4","c":"r","t":200,"v":-60},{"s":"r4","c":"r","t":238,"v":-50},{"s":"r4","c":"r","t":250,"v":550},{"s":"r4","c":"r","t":265,"v":620},{"s":"r4","c":"r","t":290,"v":480},{"s":"r4","c":"r","t":310,"v":380},{"s":"r4","c":"r","t":322,"v":-80},{"s":"r4","c":"r","t":345,"v":-140},{"s":"r4","c":"r","t":400,"v":-60},{"s":"r4","c":"r","t":470,"v":-20},{"s":"r4","c":"r","t":592,"v":0},{"s":"r4","c":"r","t":600,"v":250}]
},
"spacing":14,
"vconcat":[
{"spacing":0,"vconcat":[
{"bounds":"flush","spacing":37,"hconcat":[
{"width":146,"height":75,"title":{"text":"Horizontal Amplitude","offset":-1},"layer":[
{"data":{"name":"a1g"},"mark":"line","encoding":{"x":{"field":"t","type":"quantitative","scale":{"domain":[0,800],"nice":false},"axis":{"values":[200,400,600],"tickCount":10,"labels":false,"tickSize":-4,"title":null}},"y":{"field":"v","type":"quantitative","scale":{"domain":[-5,64],"nice":false,"zero":false},"axis":{"values":[0,20,40,60],"tickCount":10,"title":"Gaze"}},"color":{"field":"c","type":"nominal","scale":{"domain":["b","r"],"range":["#2eaae1","#c1272d"]},"legend":null},"detail":{"field":"s"}}},
{"data":{"values":[{"t":150,"v":9,"v2":-13.6},{"t":450,"v":8,"v2":-13.6}]},"mark":"rule","encoding":{"x":{"field":"t","type":"quantitative"},"y":{"field":"v","type":"quantitative"},"y2":{"field":"v2"}}},
{"data":{"values":[{"lab":"A1"}]},"mark":{"type":"text","font":"Liberation Sans","fontSize":21,"align":"left","baseline":"top","dx":3,"dy":1,"color":"#111"},"encoding":{"text":{"field":"lab"},"x":{"datum":0},"y":{"datum":64}}}]},
{"width":146,"height":75,"title":{"text":"Horizontal Velocity","offset":-1},"layer":[
{"data":{"name":"a1v"},"mark":"line","encoding":{"x":{"field":"t","type":"quantitative","scale":{"domain":[0,800],"nice":false},"axis":{"values":[200,400,600],"tickCount":10,"labels":false,"tickSize":-4,"title":null}},"y":{"field":"v","type":"quantitative","scale":{"domain":[-100,750],"nice":false,"zero":false},"axis":{"values":[0,200,400,600],"tickCount":10,"title":null}},"color":{"field":"c","type":"nominal","scale":{"domain":["b","r"],"range":["#2eaae1","#c1272d"]},"legend":null},"detail":{"field":"s"}}},
{"data":{"values":[{"t":150,"v":136,"v2":-205.6},{"t":450,"v":60,"v2":-205.6}]},"mark":"rule","encoding":{"x":{"field":"t","type":"quantitative"},"y":{"field":"v","type":"quantitative"},"y2":{"field":"v2"}}}]}]},
{"bounds":"flush","spacing":37,"hconcat":[
{"width":146,"height":65,"layer":[
{"data":{"name":"a2g"},"mark":"line","encoding":{"x":{"field":"t","type":"quantitative","scale":{"domain":[0,800],"nice":false},"axis":{"values":[200,400,600],"tickCount":10,"labels":false,"tickSize":-4,"title":null}},"y":{"field":"v","type":"quantitative","scale":{"domain":[-13,50],"nice":false,"zero":false},"axis":{"values":[0,20,40],"tickCount":10,"title":"Head"}},"color":{"field":"c","type":"nominal","scale":{"domain":["b","r"],"range":["#2eaae1","#c1272d"]},"legend":null},"detail":{"field":"s"}}},
{"data":{"values":[{"t":150,"v":58.9,"v2":-23.1},{"t":450,"v":58.9,"v2":-23.1}]},"mark":"rule","encoding":{"x":{"field":"t","type":"quantitative"},"y":{"field":"v","type":"quantitative"},"y2":{"field":"v2"}}},
{"data":{"values":[{"lab":"A2"}]},"mark":{"type":"text","font":"Liberation Sans","fontSize":21,"align":"left","baseline":"top","dx":3,"dy":1,"color":"#111"},"encoding":{"text":{"field":"lab"},"x":{"datum":0},"y":{"datum":50}}}]},
{"width":146,"height":65,"layer":[
{"data":{"name":"a2v"},"mark":"line","encoding":{"x":{"field":"t","type":"quantitative","scale":{"domain":[0,800],"nice":false},"axis":{"values":[200,400,600],"tickCount":10,"labels":false,"tickSize":-4,"title":null}},"y":{"field":"v","type":"quantitative","scale":{"domain":[-55,245],"nice":false,"zero":false},"axis":{"values":[0,100,200],"tickCount":10,"title":null}},"color":{"field":"c","type":"nominal","scale":{"domain":["b","r"],"range":["#2eaae1","#c1272d"]},"legend":null},"detail":{"field":"s"}}},
{"data":{"values":[{"t":150,"v":288,"v2":-102.8},{"t":450,"v":288,"v2":-102.8}]},"mark":"rule","encoding":{"x":{"field":"t","type":"quantitative"},"y":{"field":"v","type":"quantitative"},"y2":{"field":"v2"}}},
{"data":{"values":[{"t":788,"v":285,"t2":628,"v2":224}]},"mark":{"type":"rule","strokeDash":[],"strokeWidth":1.3,"color":"#111"},"encoding":{"x":{"field":"t","type":"quantitative"},"y":{"field":"v","type":"quantitative"},"x2":{"field":"t2"},"y2":{"field":"v2"}}},
{"data":{"values":[{"t":622,"v":221}]},"mark":{"type":"point","shape":"triangle","angle":243,"size":45,"filled":true,"color":"#111","opacity":1},"encoding":{"x":{"field":"t","type":"quantitative"},"y":{"field":"v","type":"quantitative"}}}]}]},
{"bounds":"flush","spacing":37,"hconcat":[
{"width":146,"height":69,"layer":[
{"data":{"name":"a3g"},"mark":"line","encoding":{"x":{"field":"t","type":"quantitative","scale":{"domain":[0,800],"nice":false},"axis":null},"y":{"field":"v","type":"quantitative","scale":{"domain":[-25,31],"nice":false,"zero":false},"axis":{"values":[-20,0,20],"tickCount":10,"title":"Eye-in-head"}},"color":{"field":"c","type":"nominal","scale":{"domain":["b","r"],"range":["#2eaae1","#c1272d"]},"legend":null},"detail":{"field":"s"}}},
{"data":{"values":[{"t":150,"v":38.5,"v2":-35.9},{"t":450,"v":38.5,"v2":-35.9}]},"mark":"rule","encoding":{"x":{"field":"t","type":"quantitative"},"y":{"field":"v","type":"quantitative"},"y2":{"field":"v2"}}},
{"data":{"values":[{"lab":"A3"}]},"mark":{"type":"text","font":"Liberation Sans","fontSize":21,"align":"left","baseline":"top","dx":3,"dy":1,"color":"#111"},"encoding":{"text":{"field":"lab"},"x":{"datum":0},"y":{"datum":31}}}]},
{"width":146,"height":76,"layer":[
{"data":{"name":"a3v"},"mark":"line","encoding":{"x":{"field":"t","type":"quantitative","scale":{"domain":[0,800],"nice":false},"axis":null},"y":{"field":"v","type":"quantitative","scale":{"domain":[-200,615],"nice":false,"zero":false},"axis":{"values":[-200,0,200,400,600],"tickCount":10,"title":null}},"color":{"field":"c","type":"nominal","scale":{"domain":["b","r"],"range":["#2eaae1","#c1272d"]},"legend":null},"detail":{"field":"s"}}},
{"data":{"values":[{"t":150,"v":715,"v2":-268},{"t":450,"v":715,"v2":-268}]},"mark":"rule","encoding":{"x":{"field":"t","type":"quantitative"},"y":{"field":"v","type":"quantitative"},"y2":{"field":"v2"}}}]}]},
{"bounds":"flush","spacing":37,"hconcat":[
{"width":146,"height":11,"layer":[
{"data":{"values":[{"t1":150,"t2":450,"y1":0,"y2":1}]},"mark":{"type":"rect","color":"#1a1a1a"},"encoding":{"x":{"field":"t1","type":"quantitative","scale":{"domain":[0,800],"nice":false},"axis":{"values":[0,200,400,600,800],"tickCount":10,"ticks":false,"labelPadding":4,"domainWidth":2,"title":"Time re Gaze Initiation Cue (msec)","titleX":160,"titleY":27,"titleBaseline":"alphabetic","titleAlign":"center","titleFontSize":13.5}},"x2":{"field":"t2"},"y":{"field":"y1","type":"quantitative","scale":{"domain":[0,1]},"axis":{"title":".","titleColor":"#ffffff","labels":false,"ticks":false,"domain":false}},"y2":{"field":"y2"}}},
{"data":{"values":[{"t1":800,"y1":0.6,"lab":"ch08280100"}]},"mark":{"type":"text","align":"right","baseline":"middle","fontSize":8,"color":"#333"},"encoding":{"x":{"field":"t1","type":"quantitative"},"y":{"field":"y1","type":"quantitative"},"text":{"field":"lab"}}}]},
{"width":146,"height":11,"layer":[
{"data":{"values":[{"t1":150,"t2":450,"y1":0,"y2":1}]},"mark":{"type":"rect","color":"#1a1a1a"},"encoding":{"x":{"field":"t1","type":"quantitative","scale":{"domain":[0,800],"nice":false},"axis":{"values":[0,200,400,600,800],"tickCount":10,"ticks":false,"labelPadding":4,"domainWidth":2,"title":null}},"x2":{"field":"t2"},"y":{"field":"y1","type":"quantitative","scale":{"domain":[0,1]},"axis":null},"y2":{"field":"y2"}}}]}]}
]},
{"spacing":0,"vconcat":[
{"bounds":"flush","spacing":37,"hconcat":[
{"width":146,"height":76,"title":"Horizontal Amplitude","layer":[
{"data":{"name":"b1g"},"mark":{"type":"line","strokeWidth":1.6},"encoding":{"x":{"field":"t","type":"quantitative","scale":{"domain":[-200,600],"nice":false},"axis":{"values":[0,200,400],"tickCount":10,"labels":false,"tickSize":-4,"title":null}},"y":{"field":"v","type":"quantitative","scale":{"domain":[-6,65],"nice":false,"zero":false},"axis":{"values":[0,20,40,60],"tickCount":10,"title":"Gaze"}},"color":{"field":"c","type":"nominal","scale":{"domain":["b","r"],"range":["#2eaae1","#c1272d"]},"legend":null},"detail":{"field":"s"}}},
{"data":{"values":[{"t":0,"v":15,"v2":-9.2},{"t":237,"v":-1,"v2":-9.2}]},"mark":"rule","encoding":{"x":{"field":"t","type":"quantitative"},"y":{"field":"v","type":"quantitative"},"y2":{"field":"v2"}}},
{"data":{"values":[{"lab":"B1"}]},"mark":{"type":"text","font":"Liberation Sans","fontSize":21,"align":"left","baseline":"top","dx":3,"dy":1,"color":"#111"},"encoding":{"text":{"field":"lab"},"x":{"datum":-200},"y":{"datum":65}}}]},
{"width":146,"height":76,"title":"Horizontal Velocity","layer":[
{"data":{"name":"b1v"},"mark":{"type":"line","strokeWidth":1.6},"encoding":{"x":{"field":"t","type":"quantitative","scale":{"domain":[-200,600],"nice":false},"axis":{"values":[0,200,400],"tickCount":10,"labels":false,"tickSize":-4,"title":null}},"y":{"field":"v","type":"quantitative","scale":{"domain":[-100,830],"nice":false,"zero":false},"axis":{"values":[0,200,400,600,800],"tickCount":10,"title":null}},"color":{"field":"c","type":"nominal","scale":{"domain":["b","r"],"range":["#2eaae1","#c1272d"]},"legend":null},"detail":{"field":"s"}}},
{"data":{"values":[{"t":0,"v":-40,"v2":-141},{"t":237,"v":-40,"v2":-141}]},"mark":"rule","encoding":{"x":{"field":"t","type":"quantitative"},"y":{"field":"v","type":"quantitative"},"y2":{"field":"v2"}}}]}]},
{"bounds":"flush","spacing":37,"hconcat":[
{"width":146,"height":67,"layer":[
{"data":{"name":"b2g"},"mark":{"type":"line","strokeWidth":1.6},"encoding":{"x":{"field":"t","type":"quantitative","scale":{"domain":[-200,600],"nice":false},"axis":{"values":[0,200,400],"tickCount":10,"labels":false,"tickSize":-4,"title":null}},"y":{"field":"v","type":"quantitative","scale":{"domain":[-15,52],"nice":false,"zero":false},"axis":{"values":[0,20,40],"tickCount":10,"title":"Head"}},"color":{"field":"c","type":"nominal","scale":{"domain":["b","r"],"range":["#2eaae1","#c1272d"]},"legend":null},"detail":{"field":"s"}}},
{"data":{"values":[{"t":0,"v":60.4,"v2":-23.4},{"t":237,"v":60.4,"v2":-23.4}]},"mark":"rule","encoding":{"x":{"field":"t","type":"quantitative"},"y":{"field":"v","type":"quantitative"},"y2":{"field":"v2"}}},
{"data":{"values":[{"lab":"B2"}]},"mark":{"type":"text","font":"Liberation Sans","fontSize":21,"align":"left","baseline":"top","dx":3,"dy":1,"color":"#111"},"encoding":{"text":{"field":"lab"},"x":{"datum":-200},"y":{"datum":52}}}]},
{"width":146,"height":67,"layer":[
{"data":{"name":"b2v"},"mark":{"type":"line","strokeWidth":1.6},"encoding":{"x":{"field":"t","type":"quantitative","scale":{"domain":[-200,600],"nice":false},"axis":{"values":[0,200,400],"tickCount":10,"labels":false,"tickSize":-4,"title":null}},"y":{"field":"v","type":"quantitative","scale":{"domain":[-50,300],"nice":false,"zero":false},"axis":{"values":[0,100,200,300],"tickCount":10,"title":null}},"color":{"field":"c","type":"nominal","scale":{"domain":["b","r"],"range":["#2eaae1","#c1272d"]},"legend":null},"detail":{"field":"s"}}},
{"data":{"values":[{"t":0,"v":343.6,"v2":-93.6},{"t":237,"v":343.6,"v2":-93.6}]},"mark":"rule","encoding":{"x":{"field":"t","type":"quantitative"},"y":{"field":"v","type":"quantitative"},"y2":{"field":"v2"}}},
{"data":{"values":[{"t":550,"v":263,"t2":376,"v2":178}]},"mark":{"type":"rule","strokeDash":[],"strokeWidth":1.3,"color":"#111"},"encoding":{"x":{"field":"t","type":"quantitative"},"y":{"field":"v","type":"quantitative"},"x2":{"field":"t2"},"y2":{"field":"v2"}}},
{"data":{"values":[{"t":370,"v":175}]},"mark":{"type":"point","shape":"triangle","angle":243,"size":45,"filled":true,"color":"#111","opacity":1},"encoding":{"x":{"field":"t","type":"quantitative"},"y":{"field":"v","type":"quantitative"}}}]}]},
{"bounds":"flush","spacing":37,"hconcat":[
{"width":146,"height":76,"layer":[
{"data":{"name":"b3g"},"mark":{"type":"line","strokeWidth":1.6},"encoding":{"x":{"field":"t","type":"quantitative","scale":{"domain":[-200,600],"nice":false},"axis":null},"y":{"field":"v","type":"quantitative","scale":{"domain":[-10,35],"nice":false,"zero":false},"axis":{"values":[-10,0,10,20,30],"tickCount":10,"title":"Eye-in-head"}},"color":{"field":"c","type":"nominal","scale":{"domain":["b","r"],"range":["#2eaae1","#c1272d"]},"legend":null},"detail":{"field":"s"}}},
{"data":{"values":[{"t":0,"v":39.9,"v2":-16.1},{"t":237,"v":39.9,"v2":-16.1}]},"mark":"rule","encoding":{"x":{"field":"t","type":"quantitative"},"y":{"field":"v","type":"quantitative"},"y2":{"field":"v2"}}},
{"data":{"values":[{"lab":"B3"}]},"mark":{"type":"text","font":"Liberation Sans","fontSize":21,"align":"left","baseline":"top","dx":3,"dy":1,"color":"#111"},"encoding":{"text":{"field":"lab"},"x":{"datum":-200},"y":{"datum":35}}}]},
{"width":146,"height":76,"layer":[
{"data":{"name":"b3v"},"mark":{"type":"line","strokeWidth":1.6},"encoding":{"x":{"field":"t","type":"quantitative","scale":{"domain":[-200,600],"nice":false},"axis":null},"y":{"field":"v","type":"quantitative","scale":{"domain":[-200,690],"nice":false,"zero":false},"axis":{"values":[-200,0,200,400,600],"tickCount":10,"title":null}},"color":{"field":"c","type":"nominal","scale":{"domain":["b","r"],"range":["#2eaae1","#c1272d"]},"legend":null},"detail":{"field":"s"}}},
{"data":{"values":[{"t":0,"v":787,"v2":-321},{"t":237,"v":787,"v2":-321}]},"mark":"rule","encoding":{"x":{"field":"t","type":"quantitative"},"y":{"field":"v","type":"quantitative"},"y2":{"field":"v2"}}}]}]},
{"bounds":"flush","spacing":37,"hconcat":[
{"width":146,"height":10,"layer":[
{"data":{"values":[{"t1":0,"t2":237,"y1":0,"y2":1}]},"mark":{"type":"rect","color":"#1a1a1a"},"encoding":{"x":{"field":"t1","type":"quantitative","scale":{"domain":[-200,600],"nice":false},"axis":{"values":[-200,0,200,400,600],"tickCount":10,"ticks":false,"labelPadding":4,"domainWidth":2,"title":"Time re Gaze Onset (msec)","titleX":160,"titleY":27,"titleBaseline":"alphabetic","titleAlign":"center","titleFontSize":13.5}},"x2":{"field":"t2"},"y":{"field":"y1","type":"quantitative","scale":{"domain":[0,1]},"axis":{"title":".","titleColor":"#ffffff","labels":false,"ticks":false,"domain":false}},"y2":{"field":"y2"}}},
{"data":{"values":[{"t1":600,"y1":0.6,"lab":"ch03210201"}]},"mark":{"type":"text","align":"right","baseline":"middle","fontSize":8,"color":"#333"},"encoding":{"x":{"field":"t1","type":"quantitative"},"y":{"field":"y1","type":"quantitative"},"text":{"field":"lab"}}}]},
{"width":146,"height":10,"layer":[
{"data":{"values":[{"t1":0,"t2":237,"y1":0,"y2":1}]},"mark":{"type":"rect","color":"#1a1a1a"},"encoding":{"x":{"field":"t1","type":"quantitative","scale":{"domain":[-200,600],"nice":false},"axis":{"values":[-200,0,200,400,600],"tickCount":10,"ticks":false,"labelPadding":4,"domainWidth":2,"title":null}},"x2":{"field":"t2"},"y":{"field":"y1","type":"quantitative","scale":{"domain":[0,1]},"axis":null},"y2":{"field":"y2"}}}]}]}
]}
]
}
